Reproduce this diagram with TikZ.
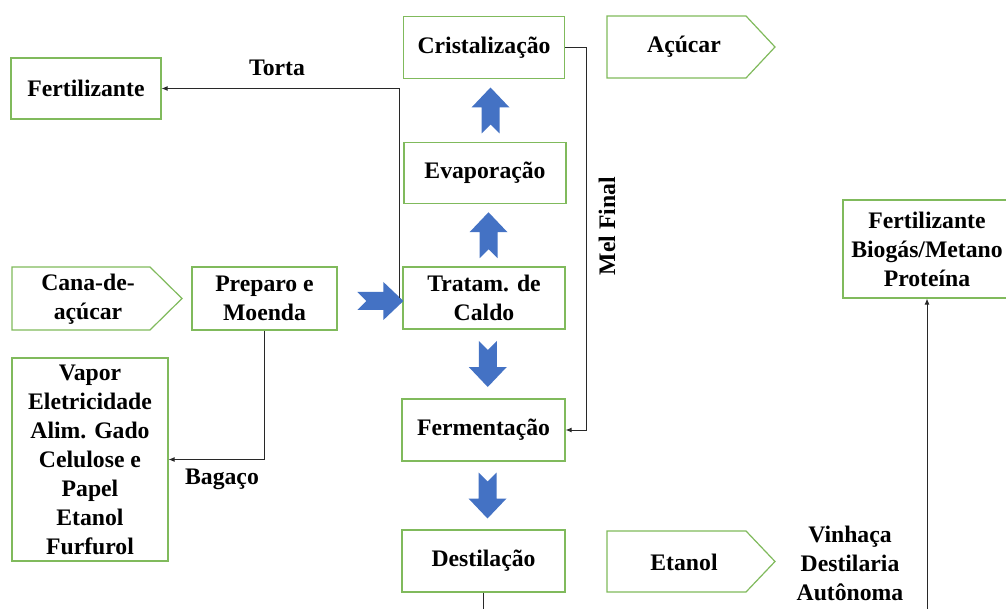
\documentclass[tikz,border=0pt]{standalone}
\usepackage{fontspec}
\setmainfont{Liberation Serif}
\usetikzlibrary{arrows.meta,calc}
\definecolor{boxgreen}{RGB}{128,186,92}
\definecolor{flowblue}{RGB}{68,114,196}
\definecolor{wire}{RGB}{40,40,40}
\begin{document}
\begin{tikzpicture}[x=1pt,y=-1pt,
  every node/.style={font=\fontsize{23.7}{29}\selectfont\bfseries, text=black},
  stepbox/.style={draw=boxgreen, line width=1.2pt, rectangle, inner sep=0pt, align=center},
  outline/.style={draw=boxgreen, line width=1.2pt},
  label/.style={inner sep=0pt, align=center},
  arr/.style={draw=wire, line width=0.9pt, -{Latex[length=6pt,width=5pt]}},
  wireline/.style={draw=wire, line width=0.9pt},
  blk/.pic={\fill[flowblue] (-23,-9) -- (3,-9) -- (3,-19) -- (23,0) -- (3,19) -- (3,9) -- (-23,9) -- (-14,0) -- cycle;}
]
\useasboundingbox (0,0) rectangle (1006,609);
\fill[white] (0,0) rectangle (1006,609);

% process column
\node[stepbox, minimum width=161pt, minimum height=62pt] (cris) at (484,47.5) {Cristalização};
\node[stepbox, minimum width=162pt, minimum height=61pt] (evap) at (485,173) {Evaporação};
\node[stepbox, minimum width=162pt, minimum height=62pt] (trat) at (484,298) {Tratam. de\\Caldo};
\node[stepbox, minimum width=163pt, minimum height=62pt] (ferm) at (483.5,430) {Fermentação};
\node[stepbox, minimum width=163pt, minimum height=62pt] (dest) at (483.5,561) {Destilação};

% left side
\node[stepbox, minimum width=150pt, minimum height=61pt] (fert) at (86,88.5) {Fertilizante};
\node[stepbox, minimum width=145pt, minimum height=63pt] (prep) at (264.5,298.5) {Preparo e\\Moenda};
\node[stepbox, minimum width=156pt, minimum height=203pt] (vapor) at (90,459.5)
  {Vapor\\Eletricidade\\Alim. Gado\\Celulose e\\Papel\\Etanol\\Furfurol};

% pentagon-shaped products
\draw[outline] (12,267) -- (150,267) -- (182,298.5) -- (150,330) -- (12,330) -- cycle;
\node[label] (cana) at (88,299) {Cana-de-\\açúcar};
\draw[outline] (607,16) -- (746,16) -- (775,47) -- (746,78) -- (607,78) -- cycle;
\node[label] (acucar) at (684,47) {Açúcar};
\draw[outline] (607,531) -- (746,531) -- (775,561.5) -- (746,592) -- (607,592) -- cycle;
\node[label] (etanol) at (684,562) {Etanol};

% right side
\node[stepbox, minimum width=168pt, minimum height=98pt] (bio) at (927,249)
  {Fertilizante\\Biogás/Metano\\Proteína};
\node[label] (vinhaca) at (850,563) {Vinhaça\\Destilaria\\Autônoma};

% block arrows of the main flow
\pic[rotate=90] at ($(cris.south)!0.5!(evap.north)+(6,0)$) {blk};
\pic[rotate=90] at ($(evap.south)!0.5!(trat.north)+(4,0)$) {blk};
\pic[rotate=-90] at ($(trat.south)!0.5!(ferm.north)+(4,0)$) {blk};
\pic[rotate=-90] at ($(ferm.south)!0.5!(dest.north)+(4,0)$) {blk};
\pic at ($(trat.west)+(-22,3)$) {blk};

% side streams
\coordinate (tortastart) at ($(trat.west)+(-3,0)$);
\draw[arr] (tortastart) |- (fert.east);
\node[label] (torta) at (277,68) {Torta};

\coordinate (melturn) at ($(cris.east)+(21,0)$);
\draw[arr] (cris.east) -- (melturn) |- (ferm.east);
\node[label, rotate=90] (mel) at (607,226) {Mel Final};

\draw[arr] (prep.south) |- (vapor.east);
\node[label] (bagaco) at (222,479) {Bagaço};

\coordinate (destout) at (483.5,612);
\draw[wireline] (dest.south) -- (destout);
\coordinate (vinhin) at (bio.south |- 0,612);
\draw[arr] (vinhin) -- (bio.south);
\end{tikzpicture}
\end{document}
